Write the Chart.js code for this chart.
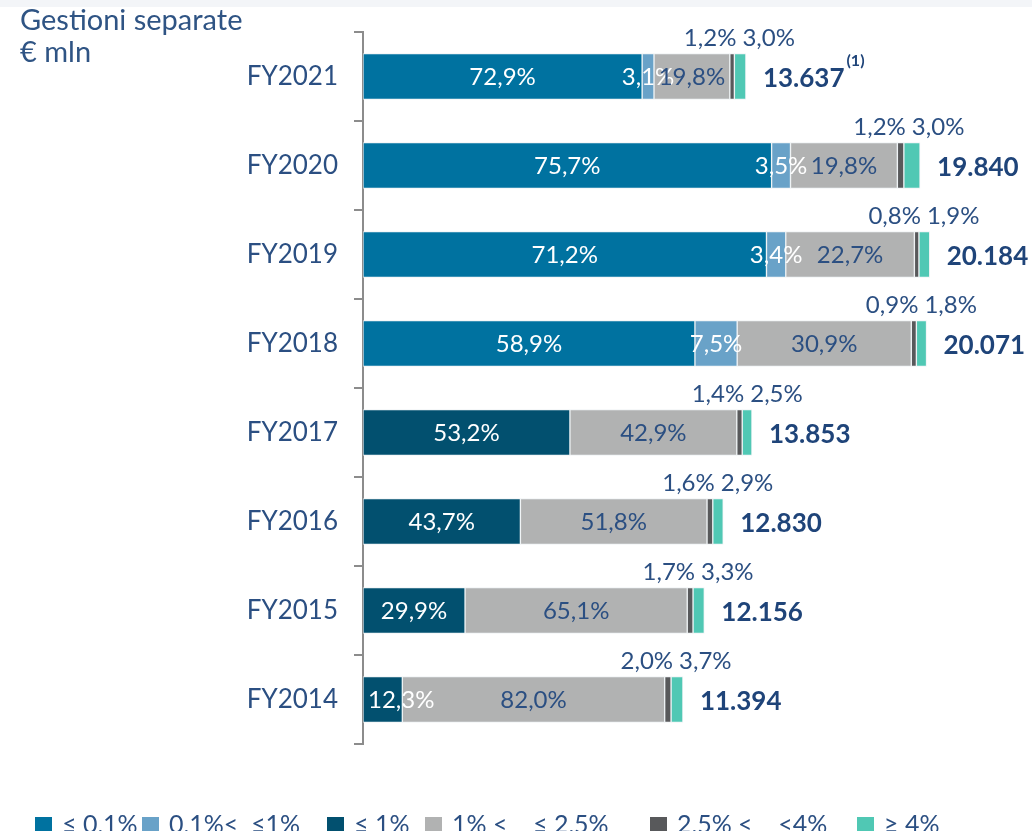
<!DOCTYPE html>
<html>
<head>
<meta charset="utf-8">
<script src="https://cdn.jsdelivr.net/npm/chart.js@4.4.1/dist/chart.umd.min.js"></script>
<style>
  html, body { margin: 0; padding: 0; background: #fff; }
  #wrap { position: relative; width: 1032px; height: 831px; overflow: hidden; }
  #topband { position: absolute; left: 0; top: 0; width: 1032px; height: 7px; background: #f3f5f8; }
  #title { position: absolute; left: 20px; top: 3px; font-family: Lato, sans-serif; font-size: 29px; line-height: 32px; color: #2f5484; }
  canvas { position: absolute; left: 0; top: 0; }
  #legend { position: absolute; left: 0; top: 808px; width: 1032px; height: 30px; font-family: Lato, sans-serif; font-size: 25px; color: #2b4f82; }
  .item { position: absolute; top: 0; white-space: pre; line-height: 30px; }
  .box { display: inline-block; width: 17px; height: 17px; margin-right: 10px; vertical-align: -1px; }
</style>
</head>
<body>
<div id="wrap">
  <div id="topband"></div>
  <canvas id="chart" width="1032" height="831"></canvas>
  <div id="title">Gestioni separate<br>€ mln</div>
  <div id="legend"></div>
</div>
<script>
// anni, dall'alto verso il basso
const years = ['FY2021', 'FY2020', 'FY2019', 'FY2018', 'FY2017', 'FY2016', 'FY2015', 'FY2014'];
const totals = [13637, 19840, 20184, 20071, 13853, 12830, 12156, 11394];
const totalLabels = ['13.637', '19.840', '20.184', '20.071', '13.853', '12.830', '12.156', '11.394'];

// quote % per fascia di rendimento
const pctLe01   = [72.9, 75.7, 71.2, 58.9, null, null, null, null];
const pct01to1  = [3.1, 3.5, 3.4, 7.5, null, null, null, null];
const pctLe1    = [null, null, null, null, 53.2, 43.7, 29.9, 12.3];
const pct1to25  = [19.8, 19.8, 22.7, 30.9, 42.9, 51.8, 65.1, 82.0];
const pct25to4  = [1.2, 1.2, 0.8, 0.9, 1.4, 1.6, 1.7, 2.0];
const pctGe4    = [3.0, 3.0, 1.9, 1.8, 2.5, 2.9, 3.3, 3.7];

const seriesNames = ['≤ 0,1%', '0,1%<  ≤1%', '≤ 1%', '1% <    ≤ 2,5%', '2,5% <    <4%', '≥ 4%'];
const seriesColors = ['#0072a0', '#69a2c8', '#02506f', '#b1b2b2', '#58595b', '#50c8b4'];
const allPct = [pctLe01, pct01to1, pctLe1, pct1to25, pct25to4, pctGe4];

// posizione orizzontale delle voci di legenda
const legendLeft = [35, 142, 327, 425, 650, 857];

const TXT = '#2b4f82';
const TOT = '#1f4479';
const FONT = 'Lato, sans-serif';

// somma delle quote per anno (FY2020 non somma a 100)
const sums = years.map((_, i) => allPct.reduce((s, a) => s + (a[i] || 0), 0));
const fmt = v => v.toFixed(1).replace('.', ',') + '%';

const datasets = allPct.map((arr, k) => ({
  label: seriesNames[k],
  data: arr.map((p, i) => p == null ? null : p / sums[i] * totals[i]),
  pct: arr,
  backgroundColor: seriesColors[k],
  borderColor: 'rgba(235,240,242,0.8)',
  borderWidth: 1,
  borderSkipped: false,
  barThickness: 46
}));

const labelPlugin = {
  id: 'labels',
  afterDatasetsDraw(chart) {
    const ctx = chart.ctx;
    ctx.save();
    ctx.textBaseline = 'middle';
    chart.data.datasets.forEach((ds, k) => {
      const meta = chart.getDatasetMeta(k);
      meta.data.forEach((el, i) => {
        const p = ds.pct[i];
        if (p == null) return;
        const y = el.y;
        if (k <= 3) {
          ctx.font = '24px ' + FONT;
          ctx.fillStyle = k === 3 ? TXT : '#ffffff';
          ctx.textAlign = 'center';
          let cx = (el.x + el.base) / 2;
          if (k === 2) {
            // il primo segmento non deve uscire a sinistra dall'asse
            const w = ctx.measureText(fmt(p)).width;
            cx = Math.max(cx, el.base + 5 + w / 2);
          }
          ctx.fillText(fmt(p), cx, y + 1);
        } else if (k === 4) {
          ctx.font = '24px ' + FONT;
          ctx.fillStyle = TXT;
          ctx.textAlign = 'right';
          ctx.fillText(fmt(p), el.x + 2, y - 38);
        } else {
          ctx.font = '24px ' + FONT;
          ctx.fillStyle = TXT;
          ctx.textAlign = 'left';
          ctx.fillText(fmt(p), el.base + 8, y - 38);
          // totale a destra della barra
          ctx.font = 'bold 26px ' + FONT;
          ctx.fillStyle = TOT;
          const tx = el.x + 17;
          ctx.fillText(totalLabels[i], tx, y + 2);
          if (i === 0) {
            const w = ctx.measureText(totalLabels[i]).width;
            ctx.font = 'bold 16px ' + FONT;
            ctx.fillText('(1)', tx + w + 2, y - 16);
          }
        }
      });
    });
    ctx.restore();
  }
};

new Chart(document.getElementById('chart'), {
  type: 'bar',
  data: { labels: years, datasets: datasets },
  options: {
    indexAxis: 'y',
    responsive: false,
    animation: false,
    layout: { padding: { top: 32, right: 12, left: 0, bottom: 0 } },
    scales: {
      x: {
        stacked: true,
        min: 0,
        max: 23400,
        ticks: { display: false },
        grid: { display: false },
        border: { display: false },
        afterFit: s => { s.height = 87; }
      },
      y: {
        stacked: true,
        afterFit: s => { s.width = 363; },
        grid: { offset: true, drawOnChartArea: false, tickLength: 9, color: '#8c8c8c', lineWidth: 2 },
        border: { color: '#8c8c8c', width: 2 },
        ticks: { color: TXT, padding: 16, font: { family: FONT, size: 26 } }
      }
    },
    plugins: {
      tooltip: { enabled: false },
      legend: { display: false }
    }
  },
  plugins: [labelPlugin]
});

// legenda in HTML
document.getElementById('legend').innerHTML = seriesNames.map((n, k) =>
  `<span class="item" style="left:${legendLeft[k]}px"><span class="box" style="background:${seriesColors[k]}"></span>${n}</span>`
).join('');
</script>
</body>
</html>
